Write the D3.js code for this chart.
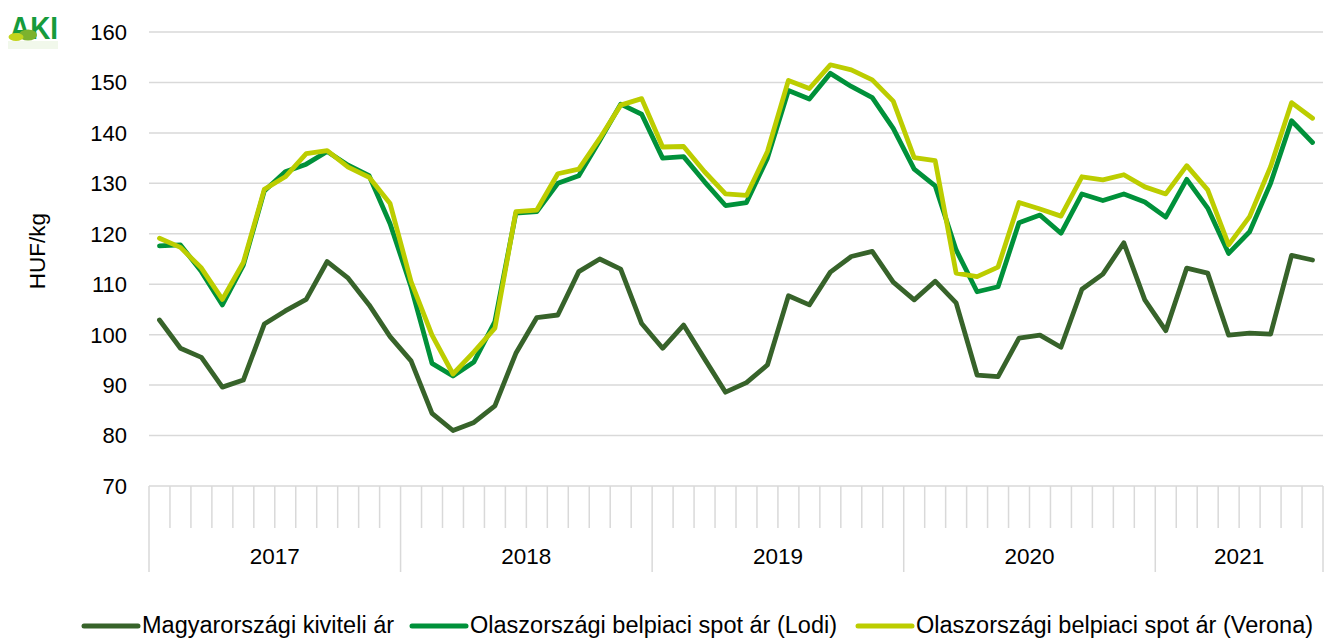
<!DOCTYPE html>
<html>
<head>
<meta charset="utf-8">
<script src="https://cdn.jsdelivr.net/npm/d3@7"></script>
<style>
  body { margin: 0; background: #fff; }
  svg { display: block; font-family: "Liberation Sans", Arial, sans-serif; }
</style>
</head>
<body>
<svg id="chart" width="1337" height="639"></svg>
<script>
const years = ["2017", "2018", "2019", "2020", "2021"];
const monthsPerYear = [12, 12, 12, 12, 8];
const yTicks = [70, 80, 90, 100, 110, 120, 130, 140, 150, 160];

const seriesNames = [
  "Magyarországi kiviteli ár",
  "Olaszországi belpiaci spot ár (Lodi)",
  "Olaszországi belpiaci spot ár (Verona)"
];
const seriesColors = ["#37632a", "#00913a", "#bccd00"];

const hungary = [102.9, 97.3, 95.5, 89.6, 91.0, 102.1, 104.7, 107.0, 114.5, 111.2, 105.9, 99.6,
  94.8, 84.4, 81.0, 82.6, 85.9, 96.3, 103.4, 103.9, 112.5, 115.0, 113.0, 102.2,
  97.3, 101.9, 95.2, 88.6, 90.5, 94.0, 107.7, 105.9, 112.4, 115.5, 116.5, 110.4,
  106.9, 110.6, 106.3, 92.0, 91.7, 99.3, 99.9, 97.5, 109.0, 112.0, 118.2, 106.9,
  100.8, 113.2, 112.2, 99.9, 100.3, 100.1, 115.7, 114.8];
const lodi = [117.6, 117.8, 112.5, 105.9, 113.8, 128.5, 132.3, 133.8, 136.3, 133.6, 131.5, 122.0,
  109.5, 94.3, 91.8, 94.6, 102.6, 124.1, 124.4, 130.0, 131.5, 138.5, 145.7, 143.7,
  135.0, 135.3, 130.3, 125.6, 126.2, 135.0, 148.4, 146.7, 151.8, 149.2, 147.0, 140.9,
  132.8, 129.5, 116.8, 108.5, 109.5, 122.2, 123.7, 120.1, 127.9, 126.6, 127.9, 126.3,
  123.3, 130.8, 125.1, 116.1, 120.4, 130.0, 142.4, 138.1];
const verona = [119.1, 117.3, 113.2, 107.0, 114.3, 128.8, 131.3, 135.9, 136.5, 133.2, 131.2, 126.0,
  110.5, 99.9, 92.2, 96.6, 101.3, 124.4, 124.7, 131.9, 132.8, 138.9, 145.5, 146.8,
  137.2, 137.3, 132.3, 127.9, 127.6, 136.3, 150.4, 148.8, 153.5, 152.5, 150.5, 146.3,
  135.1, 134.5, 112.2, 111.5, 113.4, 126.2, 124.9, 123.5, 131.3, 130.7, 131.7, 129.3,
  127.9, 133.5, 128.7, 117.8, 123.4, 133.3, 146.0, 142.9];

const allSeries = [hungary, lodi, verona];

(function () {
  const months = [];
  years.forEach((yr, i) => {
    for (let m = 0; m < monthsPerYear[i]; m++) months.push(yr + "-" + (m + 1));
  });

  const svg = d3.select("#chart");
  const pLeft = 149, pRight = 1323, pTop = 32, pBottom = 486;

  const x = d3.scaleBand().domain(months).range([pLeft, pRight]).paddingInner(0).paddingOuter(0);
  const y = d3.scaleLinear().domain([70, 160]).range([pBottom, pTop]);

  const grid = "#d9d9d9";

  svg.append("g").selectAll("line").data(yTicks.filter(t => t !== 70)).join("line")
    .attr("x1", pLeft).attr("x2", pRight)
    .attr("y1", d => y(d)).attr("y2", d => y(d))
    .attr("stroke", grid).attr("stroke-width", 1.5);

  svg.append("g").selectAll("text").data(yTicks).join("text")
    .attr("x", 127).attr("y", d => y(d)).attr("dy", "0.36em")
    .attr("text-anchor", "end").attr("font-size", 22).attr("fill", "#000")
    .text(d => d);

  svg.append("text")
    .attr("transform", `translate(37,251) rotate(-90)`)
    .attr("text-anchor", "middle").attr("dy", "0.36em").attr("font-size", 22.5)
    .text("HUF/kg");

  svg.append("line").attr("x1", pLeft).attr("x2", pRight)
    .attr("y1", pBottom).attr("y2", pBottom).attr("stroke", grid).attr("stroke-width", 1.5);

  const boundaries = [];
  let idx = 0;
  years.forEach((yr, i) => { boundaries.push(idx); idx += monthsPerYear[i]; });
  boundaries.push(months.length);

  const monthTicks = months.map((m, i) => i).filter(i => !boundaries.includes(i));
  svg.append("g").selectAll("line").data(monthTicks).join("line")
    .attr("x1", i => x(months[i])).attr("x2", i => x(months[i]))
    .attr("y1", pBottom).attr("y2", 528)
    .attr("stroke", grid).attr("stroke-width", 1.5);

  svg.append("g").selectAll("line").data(boundaries).join("line")
    .attr("x1", i => i < months.length ? x(months[i]) : pRight)
    .attr("x2", i => i < months.length ? x(months[i]) : pRight)
    .attr("y1", pBottom).attr("y2", 572)
    .attr("stroke", grid).attr("stroke-width", 1.5);

  svg.append("g").selectAll("text").data(years).join("text")
    .attr("x", (d, i) => {
      const a = x(months[boundaries[i]]);
      const b = boundaries[i + 1] < months.length ? x(months[boundaries[i + 1]]) : pRight;
      return (a + b) / 2;
    })
    .attr("y", 556).attr("dy", "0.36em")
    .attr("text-anchor", "middle").attr("font-size", 22.5)
    .text(d => d);

  const line = d3.line()
    .x((d, i) => x(months[i]) + x.bandwidth() / 2)
    .y(d => y(d));

  allSeries.forEach((s, k) => {
    svg.append("path").datum(s)
      .attr("d", line)
      .attr("fill", "none")
      .attr("stroke", seriesColors[k])
      .attr("stroke-width", 4.8)
      .attr("stroke-linejoin", "round")
      .attr("stroke-linecap", "round");
  });

  const legendX = [84, 412, 858];
  const legendY = 625;
  const lg = svg.append("g");
  seriesNames.forEach((n, k) => {
    lg.append("line")
      .attr("x1", legendX[k]).attr("x2", legendX[k] + 54)
      .attr("y1", legendY + 1).attr("y2", legendY + 1)
      .attr("stroke", seriesColors[k]).attr("stroke-width", 5).attr("stroke-linecap", "round");
    lg.append("text")
      .attr("x", legendX[k] + 58).attr("y", legendY).attr("dy", "0.36em")
      .attr("font-size", 23.5)
      .text(n);
  });

  // AKI logo
  const logo = svg.append("g");
  logo.append("text").attr("x", 10).attr("y", 39).attr("font-size", 32).attr("font-weight", "bold")
    .attr("fill", "#169b3c").attr("textLength", 48).attr("lengthAdjust", "spacingAndGlyphs")
    .text("AKI");
  logo.append("ellipse").attr("cx", 28).attr("cy", 35).attr("rx", 9).attr("ry", 5.5).attr("fill", "#7cb22e");
  logo.append("ellipse").attr("cx", 16).attr("cy", 37).attr("rx", 7.5).attr("ry", 4).attr("fill", "#c2d41c");
  logo.append("rect").attr("x", 8).attr("y", 41).attr("width", 50).attr("height", 8).attr("fill", "#e8f3dd").attr("opacity", 0.6);
})();
</script>
</body>
</html>
